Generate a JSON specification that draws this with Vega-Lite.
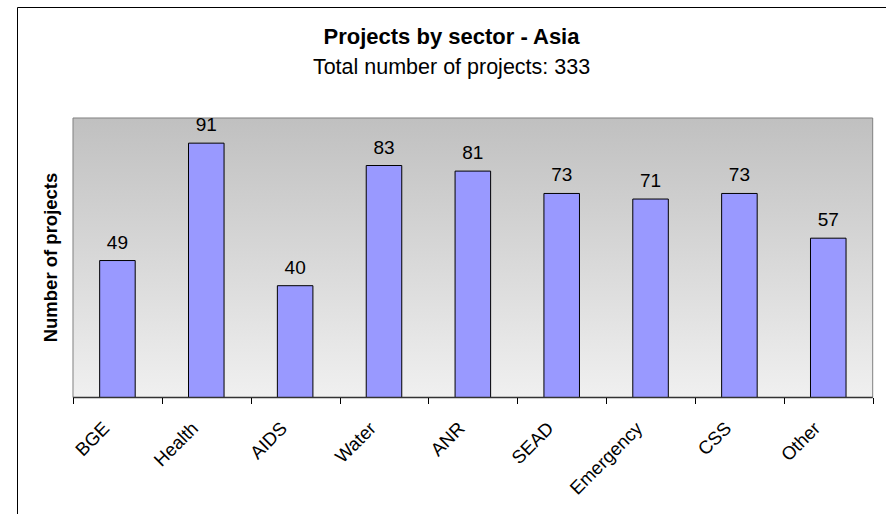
{
  "$schema": "https://vega.github.io/schema/vega-lite/v6.json",
  "width": 869,
  "height": 513,
  "autosize": "none",
  "padding": {"left": 17, "top": 7, "right": 0, "bottom": 0},
  "background": "white",
  "config": {
    "view": {"stroke": "black", "strokeWidth": 1, "fill": "white"},
    "font": "Liberation Sans"
  },
  "title": {
    "text": "Projects by sector - Asia",
    "subtitle": "Total number of projects: 333",
    "font": "Liberation Sans",
    "subtitleFont": "Liberation Sans",
    "fontSize": 22,
    "fontWeight": "bold",
    "subtitleFontSize": 21.5,
    "color": "black",
    "subtitleColor": "black",
    "anchor": "middle",
    "frame": "group",
    "offset": -72,
    "subtitlePadding": 8
  },
  "data": {
    "values": [
      {"sector": "BGE", "count": 49},
      {"sector": "Health", "count": 91},
      {"sector": "AIDS", "count": 40},
      {"sector": "Water", "count": 83},
      {"sector": "ANR", "count": 81},
      {"sector": "SEAD", "count": 73},
      {"sector": "Emergency", "count": 71},
      {"sector": "CSS", "count": 73},
      {"sector": "Other", "count": 57}
    ]
  },
  "layer": [
    {
      "data": {"values": [{}]},
      "mark": {
        "type": "rect",
        "fill": {
          "gradient": "linear",
          "x1": 0, "y1": 0, "x2": 0, "y2": 1,
          "stops": [
            {"offset": 0, "color": "#C0C0C0"},
            {"offset": 1, "color": "#F0F0F0"}
          ]
        },
        "stroke": "#808080",
        "strokeWidth": 1
      },
      "encoding": {
        "x": {"datum": "BGE", "type": "nominal", "bandPosition": 0, "title": null},
        "x2": {"datum": "Other", "bandPosition": 1},
        "y": {"datum": 0, "type": "quantitative", "title": "Number of projects"},
        "y2": {"datum": 100}
      }
    },
    {
      "mark": {"type": "bar", "color": "#9999FF", "stroke": "black", "strokeWidth": 1, "width": {"band": 0.4}},
      "encoding": {
        "x": {
          "field": "sector",
          "type": "nominal",
          "sort": null,
          "title": null,
          "scale": {
            "domain": ["BGE", "Health", "AIDS", "Water", "ANR", "SEAD", "Emergency", "CSS", "Other"],
            "paddingInner": 0,
            "paddingOuter": 0.39,
            "align": 0.808
          },
          "axis": {
            "title": null,
            "offset": -122.5,
            "domain": false,
            "grid": false,
            "tickBand": "extent",
            "tickSize": 6,
            "tickColor": "black",
            "labelAngle": -45,
            "labelAlign": "right",
            "labelBaseline": "top",
            "labelOffset": -18,
            "labelPadding": 15,
            "labelFontSize": 18.5,
            "labelFont": "Liberation Sans",
            "labelColor": "black",
            "labelOverlap": false,
            "labelFlush": false
          }
        },
        "y": {
          "field": "count",
          "type": "quantitative",
          "title": "Number of projects",
          "scale": {"domain": [-43.83, 139.71], "nice": false, "zero": false},
          "axis": {
            "offset": -56,
            "domain": false,
            "ticks": false,
            "labels": false,
            "grid": false,
            "title": "Number of projects",
            "titleFont": "Liberation Sans",
            "titleFontSize": 18.5,
            "titleFontWeight": "bold",
            "titleColor": "black",
            "titlePadding": 13,
            "titleY": 250
          }
        }
      }
    },
    {
      "mark": {"type": "text", "baseline": "alphabetic", "dy": -12, "fontSize": 19, "color": "black", "font": "Liberation Sans"},
      "encoding": {
        "x": {"field": "sector", "type": "nominal", "sort": null, "title": null},
        "y": {"field": "count", "type": "quantitative", "title": "Number of projects"},
        "text": {"field": "count", "type": "quantitative"}
      }
    },
    {
      "data": {"values": [{}]},
      "mark": {"type": "rule", "color": "#333333", "strokeWidth": 1.5},
      "encoding": {
        "x": {"datum": "BGE", "type": "nominal", "bandPosition": 0, "title": null},
        "x2": {"datum": "Other", "bandPosition": 1},
        "y": {"datum": 0, "type": "quantitative", "title": "Number of projects"}
      }
    }
  ]
}
